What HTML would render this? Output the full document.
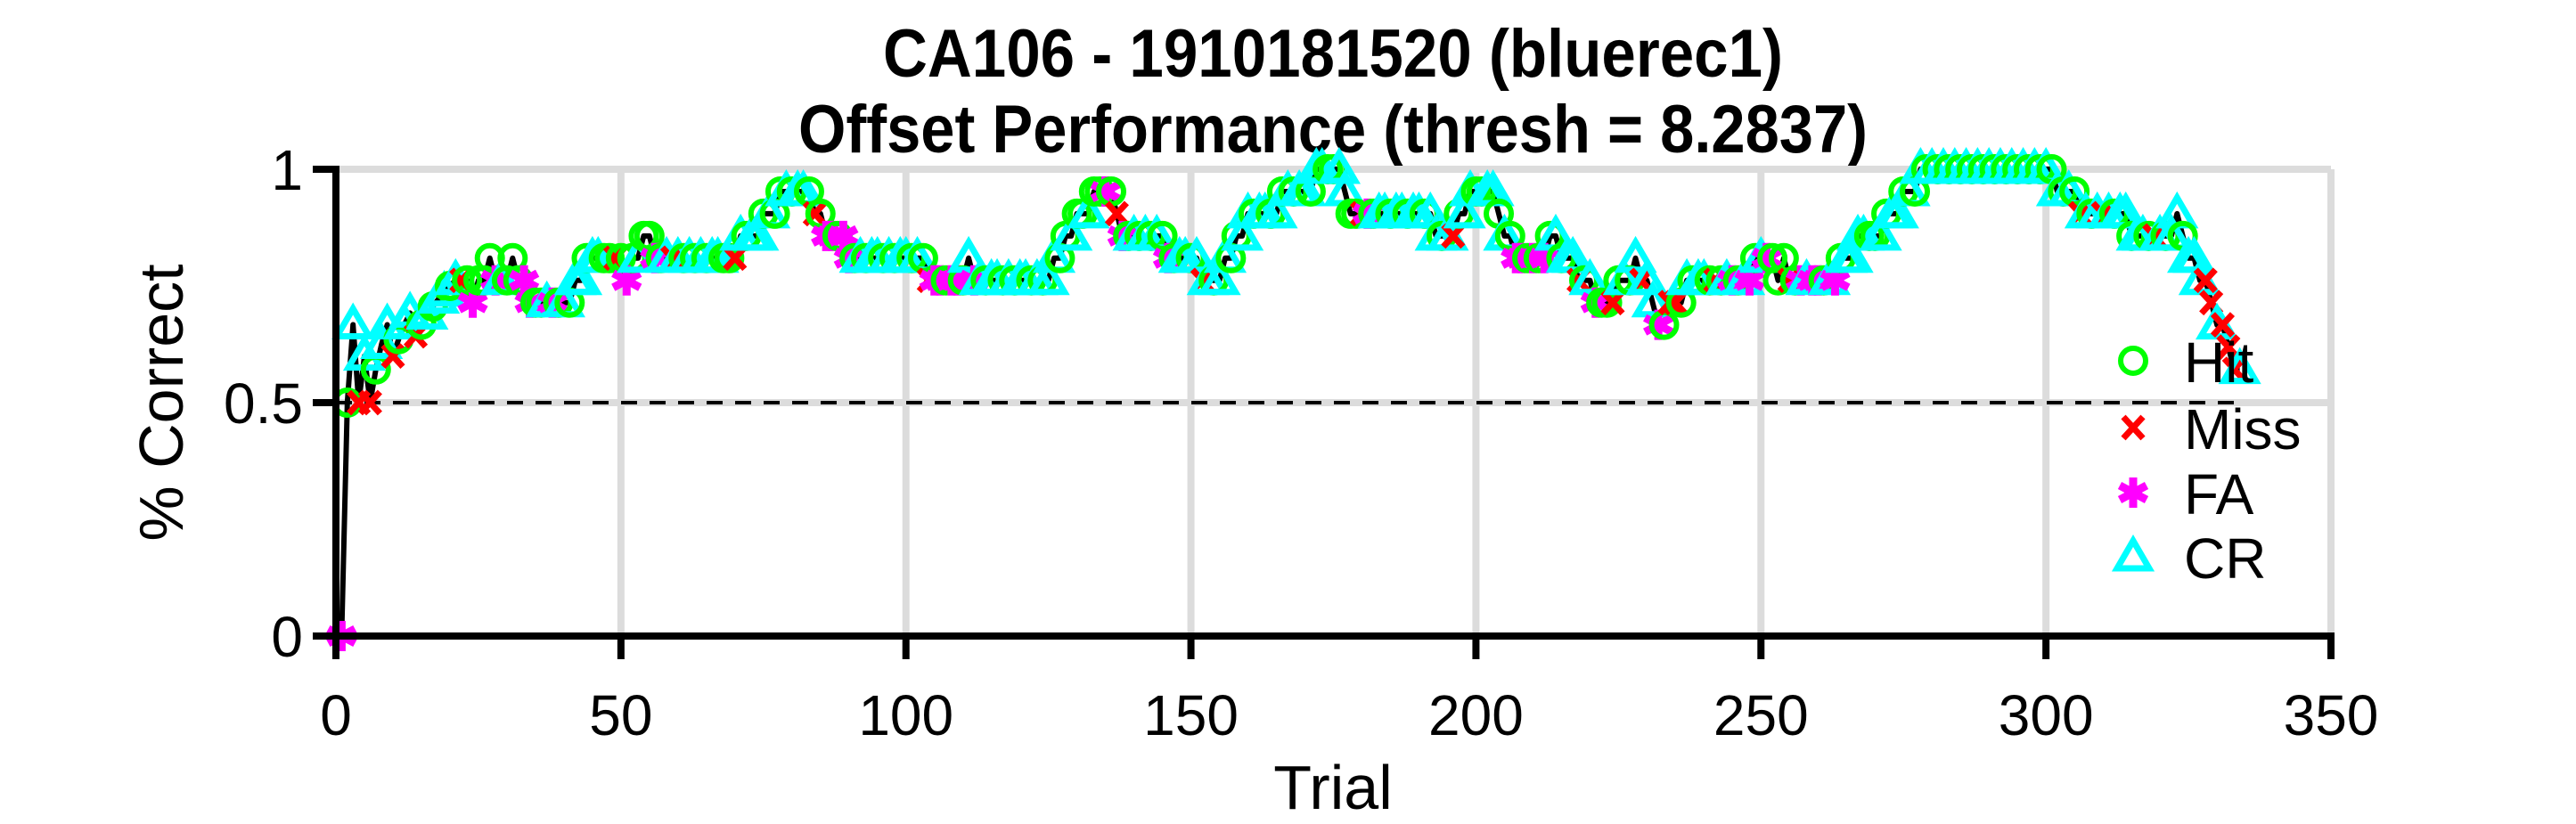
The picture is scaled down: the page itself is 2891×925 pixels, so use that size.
<!DOCTYPE html>
<html><head><meta charset="utf-8"><style>
html,body{margin:0;padding:0;background:#fff;}
svg{display:block;font-family:"Liberation Sans",Arial,sans-serif;}
</style></head><body>
<svg id="chart" width="2891" height="925" viewBox="0 0 2891 925" xmlns="http://www.w3.org/2000/svg">
<text x="1496" y="86" text-anchor="middle" font-size="76" font-weight="bold" textLength="1010" lengthAdjust="spacingAndGlyphs">CA106 - 1910181520 (bluerec1)</text>
<text x="1496" y="171" text-anchor="middle" font-size="76" font-weight="bold" textLength="1200" lengthAdjust="spacingAndGlyphs">Offset Performance (thresh = 8.2837)</text>
<g id="grid"></g>
<g id="plot"></g>
<g id="axes"></g>
<text x="1496" y="908" text-anchor="middle" font-size="70">Trial</text>
<text transform="translate(205,452) rotate(-90)" text-anchor="middle" font-size="70">% Correct</text>
<g id="legend"></g>
</svg>
<script>
const earlyPct = [0,0.5,0.667,0.5,0.6,0.5,0.571,0.625,0.667,0.6,0.636,0.667,0.692,0.643,0.667,0.688,0.706,0.722,0.737,0.75,0.762];
const earlyOutcome = ["F","H","C","M","C","M","H","C","C","M","H","C","C","M","H","C","H","C","C","H","C"];
const correctOf21 = [16,16,15,16,16,17,16,16,16,17,16,16,15,15,15,15,15,15,15,15,16,16,17,17,17,17,17,17,17,16,17,17,18,18,17,17,17,17,17,17,17,17,17,17,17,17,17,17,17,18,18,18,18,19,19,19,20,20,20,20,20,20,19,19,18,18,18,18,17,17,17,17,17,17,17,17,17,17,17,17,17,17,16,16,16,16,16,16,16,17,16,16,16,16,16,16,16,16,16,16,16,16,16,16,17,17,18,18,19,19,19,20,20,20,20,19,18,18,18,18,18,18,18,18,17,17,17,17,17,17,16,16,16,16,17,17,18,18,19,19,19,19,19,19,20,20,20,20,20,20,21,21,21,21,21,20,19,19,19,19,19,19,19,19,19,19,19,19,19,19,19,18,18,18,18,19,19,20,20,20,20,20,19,18,18,17,17,17,17,17,17,18,18,17,17,17,16,16,16,15,15,15,15,16,16,16,17,16,16,15,14,14,15,15,15,16,16,16,16,16,16,16,16,16,16,16,16,17,17,17,17,16,17,16,16,16,16,16,16,16,16,16,17,17,17,18,18,18,18,18,19,19,19,20,20,20,21,21,21,21,21,21,21,21,21,21,21,21,21,21,21,21,21,21,21,21,21,21,21,21,20,20,20,20,19,19,19,19,19,19,19,19,19,18,18,18,18,18,18,18,18,19,18,17,17,16,16,15,14,14,13,12,12];
const lateOutcome = ["M","H","F","H","H","H","F","C","H","H","H","F","F","H","H","C","F","H","C","H","C","C","H","C","C","H","H","M","H","F","H","C","H","H","F","H","C","M","C","H","C","H","C","H","C","C","H","H","M","C","H","C","C","H","C","H","H","C","H","C","C","H","M","H","F","F","H","F","F","H","C","H","C","C","H","C","H","C","C","H","C","H","M","F","F","H","F","F","H","C","F","C","H","C","C","H","C","H","C","C","H","C","H","C","C","H","H","C","H","H","C","H","H","F","H","M","F","H","C","H","C","H","C","H","F","H","C","C","H","C","M","C","H","C","C","H","H","C","C","H","C","C","H","C","H","C","H","C","C","H","C","C","H","H","C","C","H","H","M","F","H","C","C","H","C","C","H","C","C","H","C","C","H","C","M","H","C","C","H","H","C","C","H","C","H","F","F","H","F","H","F","H","C","H","C","C","M","H","C","F","H","H","M","H","C","H","C","M","C","C","F","H","M","M","H","C","H","C","C","H","M","H","C","F","H","C","F","H","C","F","H","H","H","M","H","F","C","F","F","H","C","F","H","C","C","C","C","H","H","C","H","C","C","H","C","H","C","H","C","H","C","H","C","H","C","H","C","H","C","H","C","H","C","H","C","H","C","H","C","H","C","H","C","H","M","C","H","C","M","C","H","C","C","H","C","C","H","M","C","H","C","C","H","C","C","C","M","M","C","M","M","M","C","M","M","C"];
const xTicks = [0,50,100,150,200,250,300,350];
const yTicks = [0,0.5,1];
const yTickLabels = ["0","0.5","1"];
const chanceLevel = 0.5;

const pct = earlyPct.concat(correctOf21.map(k => k/21));
const outcome = earlyOutcome.concat(lateOutcome).slice(0, pct.length);
const NS = "http://www.w3.org/2000/svg";
const X0 = 377, X1 = 2616, Y0 = 714, Y1 = 190;
const xs = t => X0 + (t/350)*(X1-X0);
const ys = v => Y0 - v*(Y0-Y1);
function mk(tag, attrs, parent){ const e=document.createElementNS(NS,tag); for(const k in attrs) e.setAttribute(k,attrs[k]); parent.appendChild(e); return e; }
const grid=document.getElementById('grid'), plot=document.getElementById('plot'), axes=document.getElementById('axes'), legend=document.getElementById('legend');

xTicks.forEach(t=>{ if(t===0) return;
  const g=mk('line',{x1:xs(t),x2:xs(t),y1:Y1,y2:Y0,stroke:'#dcdcdc','stroke-width':8},grid);
  
  
});
yTicks.forEach(v=>{ if(v===0) return;
  const g=mk('line',{x1:X0,x2:X1,y1:ys(v),y2:ys(v),stroke:'#dcdcdc','stroke-width':8},grid);
  
  
});

const n = pct.length;
const ch=mk('line',{x1:X0,x2:xs(n),y1:ys(chanceLevel),y2:ys(chanceLevel),stroke:'#000','stroke-width':4,'stroke-dasharray':'18 14'},plot);



let d='';
pct.forEach((v,i)=>{ d += (i?'L':'M') + xs(i+1).toFixed(1) + ' ' + ys(v).toFixed(1) + ' '; });
const pl=mk('path',{d:d,fill:'none',stroke:'#000','stroke-width':6,'stroke-linejoin':'round'},plot);



function marker(type,cx,cy,parent){
  let e;
  if(type==='H'){ e=mk('circle',{cx:cx,cy:cy,r:14,fill:'none',stroke:'#00ff00','stroke-width':6},parent); }
  else if(type==='M'){ e=mk('path',{d:`M${cx-11} ${cy-12}L${cx+11} ${cy+12}M${cx+11} ${cy-12}L${cx-11} ${cy+12}`,stroke:'#ff0000','stroke-width':7,fill:'none'},parent); }
  else if(type==='F'){ e=mk('path',{d:`M${cx} ${cy-17}V${cy+17}M${cx-15} ${cy-8}L${cx+15} ${cy+8}M${cx+15} ${cy-8}L${cx-15} ${cy+8}M${cx-10} ${cy}H${cx+10}`,stroke:'#ff00ff','stroke-width':9,fill:'none'},parent); }
  else { e=mk('path',{d:`M${cx} ${cy-18}L${cx+18} ${cy+13}L${cx-18} ${cy+13}Z`,stroke:'#00ffff','stroke-width':7,fill:'none','stroke-linejoin':'miter'},parent); }
  return e;
}
const names={H:'hit-marker',M:'miss-marker',F:'fa-marker',C:'cr-marker'};
pct.forEach((v,i)=>{
  const m=marker(outcome[i]||'C',xs(i+1),ys(v),plot);
  
  
});

const ya=mk('line',{x1:X0,x2:X0,y1:Y1-4,y2:Y0+4,stroke:'#000','stroke-width':8},axes);


const xa=mk('line',{x1:X0-4,x2:X1+4,y1:Y0,y2:Y0,stroke:'#000','stroke-width':8},axes);


xTicks.forEach(t=>{
  const tk=mk('line',{x1:xs(t),x2:xs(t),y1:Y0,y2:Y0+26,stroke:'#000','stroke-width':8},axes);
  
  
  const tl=mk('text',{x:xs(t),y:825,'text-anchor':'middle','font-size':64},axes);
  tl.textContent=String(t);
  
  
});
yTicks.forEach((v,i)=>{
  const tk=mk('line',{x1:X0-26,x2:X0,y1:ys(v),y2:ys(v),stroke:'#000','stroke-width':8},axes);
  
  
  const tl=mk('text',{x:340,y:ys(v)+23,'text-anchor':'end','font-size':64},axes);
  tl.textContent=yTickLabels[i];
  
  
});

const legItems=[['H','Hit',405],['M','Miss',480],['F','FA',553],['C','CR',625]];
legItems.forEach(([k,label,y])=>{
  const m=marker(k,2394,y,legend);
  
  
  const t=mk('text',{x:2451,y:y+24,'font-size':64},legend);
  t.textContent=label;
  
  
});
</script>
</body></html>
